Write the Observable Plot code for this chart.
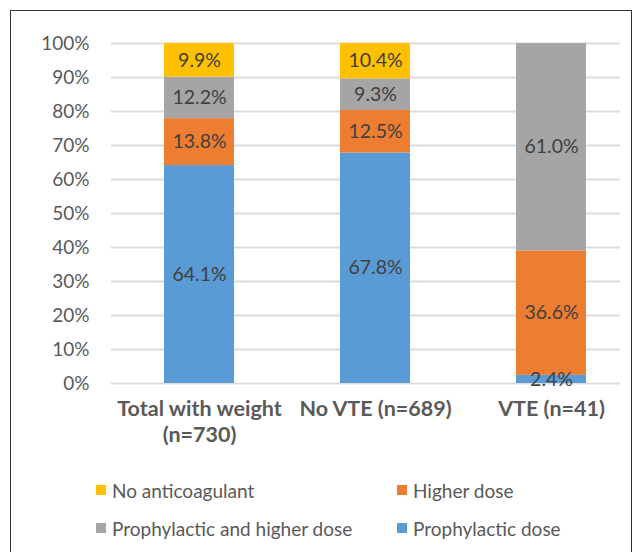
<!DOCTYPE html>
<html>
<head>
<meta charset="utf-8">
<script src="https://cdn.jsdelivr.net/npm/d3@7"></script>
<script src="https://cdn.jsdelivr.net/npm/@observablehq/plot@0.6"></script>
<style>
  html, body { margin: 0; padding: 0; background: #fff; }
  body { width: 635px; height: 552px; position: relative; overflow: hidden; font-family: Lato, "Open Sans", sans-serif; }
  #frame { position: absolute; left: 10px; top: 10px; width: 622px; height: 560px; border-left: 1.5px solid #333; border-top: 1.5px solid #333; border-right: 1.5px solid #333; box-sizing: border-box; }
  #chart { position: absolute; left: 0; top: 0; }
  #legend { position: absolute; left: 96px; top: 478px; display: grid; grid-template-columns: 301px auto; row-gap: 14px; color: #595959; font-size: 19px; }
  .item { display: flex; align-items: center; height: 24px; white-space: nowrap; }
  .sw { width: 10px; height: 10px; margin-right: 6px; }
</style>
</head>
<body>
<div id="frame"></div>
<div id="chart"></div>
<div id="legend"></div>
<script>
const categories = ["Total with weight\n(n=730)", "No VTE (n=689)", "VTE (n=41)"];
const series = ["Prophylactic dose", "Higher dose", "Prophylactic and higher dose", "No anticoagulant"];
const prophylacticDose = [64.1, 67.8, 2.4];
const higherDose = [13.8, 12.5, 36.6];
const prophylacticAndHigher = [12.2, 9.3, 61.0];
const noAnticoagulant = [9.9, 10.4, 0];
const colors = ["#5B9BD5", "#ED7D31", "#A5A5A5", "#FFC000"];
const yTicks = [0, 10, 20, 30, 40, 50, 60, 70, 80, 90, 100];
const legendOrder = ["No anticoagulant", "Higher dose", "Prophylactic and higher dose", "Prophylactic dose"];

const seriesValues = [prophylacticDose, higherDose, prophylacticAndHigher, noAnticoagulant];
const rows = [];
series.forEach((s, si) => {
  categories.forEach((c, ci) => {
    rows.push({cat: c, series: s, value: seriesValues[si][ci]});
  });
});

const chart = Plot.plot({
  width: 635,
  height: 460,
  marginTop: 43,
  marginBottom: 77,
  marginLeft: 111,
  marginRight: 15,
  style: {fontFamily: "Lato, 'Open Sans', sans-serif", background: "transparent", overflow: "visible"},
  x: {domain: categories, range: [111, 640], paddingInner: 0.6, paddingOuter: 0.3, axis: null, label: null},
  y: {domain: [0, 100], axis: null, label: null},
  color: {domain: series, range: colors},
  marks: [
    Plot.ruleY(yTicks, {stroke: "#DCDCDC", strokeWidth: 2}),
    Plot.barY(rows, Plot.stackY({x: "cat", y: "value", fill: "series", order: series})),
    Plot.text(rows.filter(d => d.value > 0), Plot.stackY({
      x: "cat", y: "value", z: "series", order: series,
      text: d => d.value.toFixed(1) + "%",
      fill: "#404040", fontSize: 19.5
    })),
    Plot.axisY({ticks: yTicks, tickSize: 0, tickPadding: 22, tickFormat: d => d + "%", fontSize: 19, fill: "#595959", label: null}),
    Plot.axisX({tickSize: 0, tickPadding: 15, fontSize: 21.5, fontWeight: "bold", fill: "#595959", lineHeight: 1.17, label: null})
  ]
});
document.getElementById("chart").appendChild(chart);

const legend = document.getElementById("legend");
legendOrder.forEach(name => {
  const item = document.createElement("div");
  item.className = "item";
  const sw = document.createElement("span");
  sw.className = "sw";
  sw.style.background = colors[series.indexOf(name)];
  const label = document.createElement("span");
  label.textContent = name;
  item.appendChild(sw);
  item.appendChild(label);
  legend.appendChild(item);
});
</script>
</body>
</html>
